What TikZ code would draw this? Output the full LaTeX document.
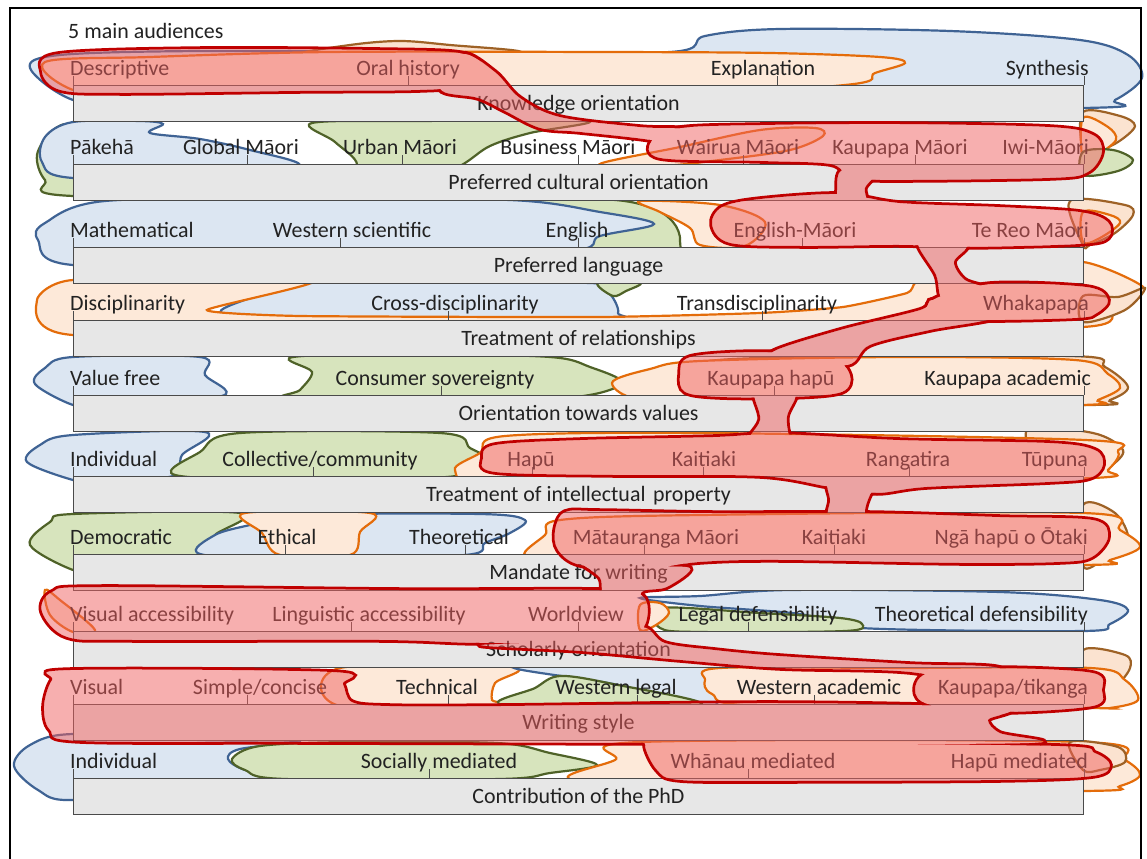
\documentclass[tikz,border=0pt]{standalone}
\usepackage{fontspec}
\setmainfont{Carlito}
\definecolor{bluefill}{HTML}{DCE6F2}
\definecolor{bluedraw}{HTML}{3F6394}
\definecolor{greenfill}{HTML}{D7E4BD}
\definecolor{greendraw}{HTML}{4F6228}
\definecolor{orangefill}{HTML}{FDE9D9}
\definecolor{orangedraw}{HTML}{E46C0A}
\definecolor{brownfill}{HTML}{FBE3D0}
\definecolor{browndraw}{HTML}{9E6226}
\definecolor{redfill}{HTML}{F06060}
\definecolor{reddraw}{HTML}{C00000}
\definecolor{barfill}{HTML}{E7E7E7}
\definecolor{barline}{HTML}{4A4A4A}
\definecolor{ink}{HTML}{222222}

% one audience region: smooth closed outline through the given points
\newcommand\blob[2]{\draw[#1] plot[smooth cycle, tension=0.55] coordinates {#2};}
% a label above a scale, and a tick mark on a scale
\newcommand\rowlab[5]{\node[lab, anchor=#4] (#1) at (#2,#3) {#5};}
\newcommand\tk[2]{\draw[tickline] (#1,#2) -- ++(0,-9);}

% pieces of the red (fifth audience) region, merged into one shape below
\newcommand\RedA{plot[smooth cycle, tension=0.55] coordinates {(42,72) (58,54) (200,49) (380,50) (460,53) (480,66) (470,85) (420,90) (300,91) (120,93) (60,90)}}
\newcommand\RedB{plot[smooth cycle, tension=0.55] coordinates {(440,89) (462,54) (495,72) (520,98) (560,117) (640,127) (690,130) (690,150) (650,140) (580,132) (540,128) (505,111) (478,98)}}
\newcommand\RedC{plot[smooth cycle, tension=0.55] coordinates {(660,158) (652,140) (680,128) (760,125) (900,124) (1050,127) (1093,135) (1102,152) (1088,172) (1050,178) (880,180) (848,176) (830,164) (760,161)}}
\newcommand\RedD{plot[smooth cycle, tension=0.55] coordinates {(842,170) (876,172) (865,188) (866,205) (840,208) (837,190)}}
\newcommand\RedE{plot[smooth cycle, tension=0.55] coordinates {(712,225) (722,207) (760,199) (840,194) (900,203) (1000,207) (1080,212) (1108,222) (1108,238) (1080,244) (967,247) (900,245) (800,246) (730,243)}}
\newcommand\RedF{plot[smooth cycle, tension=0.55] coordinates {(918,240) (966,245) (954,262) (965,280) (990,290) (945,302) (936,275)}}
\newcommand\RedG{plot[smooth cycle, tension=0.55] coordinates {(932,300) (990,284) (1087,287) (1108,300) (1097,313) (1077,318) (980,320) (935,315)}}
\newcommand\RedH{plot[smooth cycle, tension=0.55] coordinates {(935,300) (1000,316) (930,330) (870,345) (848,365) (790,362) (772,352) (840,330) (920,310)}}
\newcommand\RedI{plot[smooth cycle, tension=0.55] coordinates {(680,375) (690,357) (760,352) (830,357) (850,375) (842,392) (793,397) (720,397) (685,392)}}
\newcommand\RedJ{plot[smooth cycle, tension=0.55] coordinates {(755,390) (795,392) (787,417) (792,440) (815,450) (745,450) (760,420)}}
\newcommand\RedK{plot[smooth cycle, tension=0.55] coordinates {(483,458) (495,445) (580,440) (713,437) (780,434) (900,440) (1050,443) (1095,450) (1103,465) (1090,478) (1050,482) (927,487) (877,493) (830,487) (760,476) (613,475) (495,472)}}
\newcommand\RedL{plot[smooth cycle, tension=0.55] coordinates {(830,478) (880,480) (870,495) (865,512) (872,522) (830,520) (830,500)}}
\newcommand\RedM{plot[smooth cycle, tension=0.55] coordinates {(555,530) (565,512) (600,511) (713,513) (870,513) (1000,517) (1093,520) (1108,537) (1092,557) (1060,562) (960,563) (780,560) (700,562) (640,570) (580,565) (558,550)}}
\newcommand\RedN{plot[smooth cycle, tension=0.55] coordinates {(580,560) (640,566) (690,568) (667,587) (642,592) (640,612) (605,600) (600,578)}}
\newcommand\RedO{plot[smooth cycle, tension=0.55] coordinates {(42,612) (52,592) (100,587) (400,590) (600,590) (643,596) (645,625) (620,642) (480,643) (380,640) (133,640) (67,637)}}
\newcommand\RedP{plot[smooth cycle, tension=0.55] coordinates {(600,640) (643,627) (665,643) (715,650) (780,656) (910,664) (1000,668) (990,690) (910,672) (780,668) (680,660) (580,651) (480,645)}}
\newcommand\RedQ{plot[smooth cycle, tension=0.55] coordinates {(915,690) (930,672) (1000,668) (1093,673) (1102,690) (1093,706) (1000,712) (930,705)}}
\newcommand\RedS{plot[smooth cycle, tension=0.55] coordinates {(44,706) (52,680) (70,670) (333,672) (343,684) (352,702) (390,706) (500,706) (780,703) (1000,708) (988,720) (1000,733) (1035,743) (800,744) (645,743) (300,742) (80,741) (50,730)}}
\newcommand\RedT{plot[smooth cycle, tension=0.55] coordinates {(645,745) (660,742) (800,743) (1060,746) (1095,753) (1110,765) (1093,776) (1000,780) (780,781) (680,780) (657,770)}}
% cut away the inside of one piece from the clipping area
\newcommand\cutaway[1]{\clip (-50,-50) rectangle (1200,900) #1;}

\begin{document}
\begin{tikzpicture}[x=1bp, y=-1bp,
  font=\fontsize{22}{26}\selectfont,
  bb/.style={fill=bluefill, draw=bluedraw, line width=2.2bp},
  gb/.style={fill=greenfill, draw=greendraw, line width=2.2bp},
  ob/.style={fill=orangefill, draw=orangedraw, line width=2.2bp},
  kb/.style={fill=brownfill, draw=browndraw, line width=2.2bp},
  bar/.style={anchor=north west, minimum width=1010bp, minimum height=36bp,
    inner sep=0pt, fill=barfill, draw=barline, line width=1bp,
    text height=16bp, text depth=3bp, text=ink},
  lab/.style={inner sep=0pt, text=ink},
  tickline/.style={draw=barline, line width=1bp}]
\useasboundingbox (0,0) rectangle (1147,859);
\fill[white] (0,0) rectangle (1147,859);

% ---- audience regions (blue, green, orange, brown) ----
% row 1
\blob{bb}{(73,100) (30,68) (60,55) (200,51) (450,52) (670,52) (705,36) (780,29) (950,31) (1080,40) (1128,55) (1142,78) (1115,100) (1083,108) (600,110) (150,110)}
\blob{kb}{(300,55) (350,45) (400,41) (450,45) (520,52) (420,58)}
\blob{ob}{(45,62) (150,57) (330,52) (600,52) (770,53) (880,57) (905,63) (875,73) (845,85) (600,100) (150,100) (73,90)}
% row 2
\blob{gb}{(73,196) (45,180) (37,155) (52,131) (73,125) (110,152) (200,182) (330,186) (357,165) (335,142) (312,123) (420,121) (587,121) (530,133) (490,146) (460,166) (400,196)}
\blob{bb}{(73,178) (42,162) (45,137) (73,122) (140,121) (163,124) (150,133) (200,139) (250,150) (300,165) (250,178)}
\blob{ob}{(600,164) (680,147) (760,130) (815,128) (823,136) (790,150) (720,160) (660,166)}
\blob{kb}{(1083,112) (1120,116) (1135,126) (1118,142) (1095,152) (1083,150)}
\blob{ob}{(1083,118) (1108,127) (1116,140) (1097,155) (1083,160)}
\blob{gb}{(1083,152) (1113,150) (1133,160) (1118,171) (1083,175)}
% row 3
\blob{gb}{(470,200) (600,199) (650,207) (673,222) (680,241) (668,258) (560,262)}
\blob{bb}{(73,265) (38,240) (45,223) (105,201) (300,199) (510,200) (600,212) (654,224) (600,236) (563,252) (300,262)}
\blob{ob}{(640,201) (720,205) (765,222) (745,246) (700,245) (690,228) (660,212)}
\blob{kb}{(1070,201) (1125,205) (1133,215) (1115,233) (1090,245) (1083,245)}
\blob{ob}{(1083,212) (1110,215) (1120,223) (1100,238) (1083,242)}
% row 4
\blob{bb}{(300,283) (590,283) (610,294) (618,313) (600,319) (300,319) (222,313) (250,298)}
\blob{gb}{(598,283) (640,283) (626,291) (613,296)}
\draw[ob] plot[smooth cycle, tension=0.3] coordinates {(73,280) (313,281) (207,310) (300,316) (600,317) (760,313) (843,307) (907,293) (915,283) (940,265) (1083,262) (1143,287) (1113,310) (1083,327) (600,340) (73,335) (37,300)};
\blob{kb}{(1083,296) (1118,297) (1145,288) (1125,310) (1083,322)}
% row 5
\blob{bb}{(73,405) (35,384) (45,368) (73,357) (200,357) (205,375) (222,396) (100,405)}
\blob{gb}{(293,357) (312,372) (300,390) (290,398) (450,400) (575,397) (622,383) (590,367) (550,357) (420,354)}
\blob{kb}{(625,387) (680,367) (760,358) (1070,356) (1105,367) (1128,387) (1110,400) (1083,405) (700,402)}
\blob{ob}{(612,383) (650,369) (700,361) (900,357) (1075,360) (1108,374) (1120,388) (1098,400) (1083,405) (800,410) (650,402)}
% row 6
\blob{bb}{(73,480) (27,462) (40,445) (73,435) (205,432) (182,455) (173,476) (100,482)}
\blob{gb}{(175,475) (200,452) (240,433) (440,433) (470,448) (485,458) (462,468) (447,477) (300,480)}
\blob{kb}{(1027,430) (1093,433) (1123,450) (1110,467) (1093,477) (1050,480)}
\blob{ob}{(455,470) (480,453) (505,436) (700,433) (1085,440) (1118,452) (1108,470) (1093,478) (800,485) (500,485)}
% row 7
\blob{gb}{(73,570) (30,545) (50,522) (73,514) (240,513) (215,535) (205,554) (100,570)}
\blob{bb}{(200,554) (215,535) (250,525) (300,515) (480,514) (525,520) (510,533) (485,543) (465,555) (300,560)}
\blob{ob}{(245,513) (370,513) (360,532) (350,555) (280,555) (262,533)}
\blob{kb}{(1083,505) (1115,513) (1128,540) (1105,558) (1083,566)}
\blob{ob}{(525,555) (545,535) (560,520) (700,515) (1083,513) (1120,530) (1140,547) (1110,560) (1083,565) (700,566) (575,556)}
% row 8
\blob{ob}{(45,590) (60,600) (95,630) (73,632) (50,615)}
\blob{bb}{(640,598) (700,596) (790,590) (1000,592) (1100,600) (1128,610) (1110,624) (1083,631) (860,628) (800,614) (700,606)}
\blob{gb}{(660,608) (760,613) (840,618) (862,624) (845,631) (700,632) (660,628)}
\blob{ob}{(640,605) (660,603) (669,613) (656,625) (640,630)}
% row 9
\blob{ob}{(340,668) (512,667) (495,683) (492,700) (502,705) (340,706)}
\blob{bb}{(515,666) (740,666) (722,685) (716,705) (700,705) (613,684)}
\blob{gb}{(505,705) (535,688) (560,676) (613,684) (700,705)}
\blob{kb}{(1083,650) (1125,655) (1130,668) (1115,685) (1083,690)}
\blob{ob}{(705,680) (720,668) (900,668) (1090,668) (1125,680) (1138,700) (1110,708) (1083,708) (760,706) (712,694)}
% row 10
\blob{bb}{(73,800) (38,790) (14,766) (30,745) (73,734) (200,740) (300,741) (240,749) (228,759) (245,770) (285,779) (200,785)}
\blob{gb}{(232,759) (260,746) (350,742) (497,743) (550,753) (597,765) (550,773) (500,779) (285,779) (245,770)}
\blob{ob}{(570,779) (615,760) (640,742) (1083,742) (1125,760) (1140,775) (1120,786) (1083,791) (700,791)}
\blob{kb}{(1070,742) (1118,747) (1125,762) (1100,770) (1083,770)}

% ---- the ten scales ----
\foreach \n/\t/\txt in {1/85/Knowledge orientation, 2/164/Preferred cultural orientation,
  3/247/Preferred language, 4/320/Treatment of relationships,
  5/395/Orientation towards values, 6/476/Treatment of intellectual\hspace{0.35em}property,
  7/554/Mandate for writing, 8/631/Scholarly orientation,
  9/704/Writing style, 10/778/Contribution of the PhD}{
  \node[bar] (bar\n) at (73,\t) {\txt};
  \draw[tickline] (bar\n.north west) -- ++(0,-9);
  \draw[tickline] (bar\n.north east) -- ++(0,-9);
}

\node[lab, anchor=base west] (title) at (68,38) {5 main audiences};

% row 1
\rowlab{a1}{70}{75}{base west}{Descriptive}
\rowlab{a2}{408}{75}{base}{Oral history}
\rowlab{a3}{763}{75}{base}{Explanation}
\rowlab{a4}{1089}{75}{base east}{Synthesis}
\tk{408}{85}\tk{777}{85}
% row 2
\rowlab{b1}{70}{154}{base west}{Pākehā}
\rowlab{b2}{241}{154}{base}{Global Māori}
\rowlab{b3}{400}{154}{base}{Urban Māori}
\rowlab{b4}{568}{154}{base}{Business Māori}
\rowlab{b5}{738}{154}{base}{Wairua Māori}
\rowlab{b6}{900}{154}{base}{Kaupapa Māori}
\rowlab{b7}{1089}{154}{base east}{Iwi-Māori}
\tk{247}{164}\tk{402}{164}\tk{578}{164}\tk{743}{164}\tk{915}{164}
% row 3
\rowlab{c1}{70}{237}{base west}{Mathematical}
\rowlab{c2}{352}{237}{base}{Western scientific}
\rowlab{c3}{577}{237}{base}{English}
\rowlab{c4}{795}{237}{base}{English-Māori}
\rowlab{c5}{1089}{237}{base east}{Te Reo Māori}
\tk{340}{247}\tk{578}{247}\tk{802}{247}
% row 4
\rowlab{d1}{70}{310}{base west}{Disciplinarity}
\rowlab{d2}{455}{310}{base}{Cross-disciplinarity}
\rowlab{d3}{757}{310}{base}{Transdisciplinarity}
\rowlab{d4}{1089}{310}{base east}{Whakapapa}
\tk{448}{320}\tk{762}{320}
% row 5
\rowlab{e1}{70}{385}{base west}{Value free}
\rowlab{e2}{435}{385}{base}{Consumer sovereignty}
\rowlab{e3}{771}{385}{base}{Kaupapa hapū}
\rowlab{e4}{1091}{385}{base east}{Kaupapa academic}
\tk{441}{395}\tk{774}{395}
% row 6
\rowlab{f1}{70}{466}{base west}{Individual}
\rowlab{f2}{320}{466}{base}{Collective/community}
\rowlab{f3}{531}{466}{base}{Hapū}
\rowlab{f4}{704}{466}{base}{Kaitiaki}
\rowlab{f5}{908}{466}{base}{Rangatira}
\rowlab{f6}{1088}{466}{base east}{Tūpuna}
\tk{313}{476}\tk{532}{476}\tk{703}{476}\tk{909}{476}
% row 7
\rowlab{g1}{70}{544}{base west}{Democratic}
\rowlab{g2}{287}{544}{base}{Ethical}
\rowlab{g3}{459}{544}{base}{Theoretical}
\rowlab{g4}{656}{544}{base}{Mātauranga Māori}
\rowlab{g5}{834}{544}{base}{Kaitiaki}
\rowlab{g6}{1088}{544}{base east}{Ngā hapū o Ōtaki}
\tk{285}{554}\tk{465}{554}\tk{644}{554}\tk{834}{554}
% row 8
\rowlab{h1}{70}{621}{base west}{Visual accessibility}
\rowlab{h2}{369}{621}{base}{Linguistic accessibility}
\rowlab{h3}{576}{621}{base}{Worldview}
\rowlab{h4}{758}{621}{base}{Legal defensibility}
\rowlab{h5}{1088}{621}{base east}{Theoretical defensibility}
\tk{351}{631}\tk{578}{631}\tk{748}{631}
% row 9
\rowlab{i1}{70}{694}{base west}{Visual}
\rowlab{i2}{260}{694}{base}{Simple/concise}
\rowlab{i3}{437}{694}{base}{Technical}
\rowlab{i4}{616}{694}{base}{Western legal}
\rowlab{i5}{819}{694}{base}{Western academic}
\rowlab{i6}{1088}{694}{base east}{Kaupapa/tikanga}
\tk{247}{704}\tk{448}{704}\tk{637}{704}\tk{814}{704}
% row 10
\rowlab{j1}{70}{768}{base west}{Individual}
\rowlab{j2}{439}{768}{base}{Socially mediated}
\rowlab{j3}{753}{768}{base}{Whānau mediated}
\rowlab{j4}{1088}{768}{base east}{Hapū mediated}
\tk{429}{778}\tk{748}{778}

% ---- red audience: translucent fill of the merged pieces ----
\begin{scope}[transparency group, opacity=0.5]
  \foreach \p in {\RedA,\RedB,\RedC,\RedD,\RedE,\RedF,\RedG,\RedH,\RedI,\RedJ,
                  \RedK,\RedL,\RedM,\RedN,\RedO,\RedP,\RedQ,\RedS,\RedT}{
    \fill[redfill] \p;
  }
\end{scope}
% ---- red audience: outline of the merged shape only ----
\begin{scope}[even odd rule]
  \cutaway\RedA \cutaway\RedB \cutaway\RedC \cutaway\RedD \cutaway\RedE
  \cutaway\RedF \cutaway\RedG \cutaway\RedH \cutaway\RedI \cutaway\RedJ
  \cutaway\RedK \cutaway\RedL \cutaway\RedM \cutaway\RedN \cutaway\RedO
  \cutaway\RedP \cutaway\RedQ \cutaway\RedS \cutaway\RedT
  \foreach \p in {\RedA,\RedB,\RedC,\RedD,\RedE,\RedF,\RedG,\RedH,\RedI,\RedJ,
                  \RedK,\RedL,\RedM,\RedN,\RedO,\RedP,\RedQ,\RedS,\RedT}{
    \draw[reddraw, line width=5.5bp] \p;
  }
\end{scope}

% frame
\draw[line width=2bp] (10,8) rectangle (1141,866);
\end{tikzpicture}
\end{document}
